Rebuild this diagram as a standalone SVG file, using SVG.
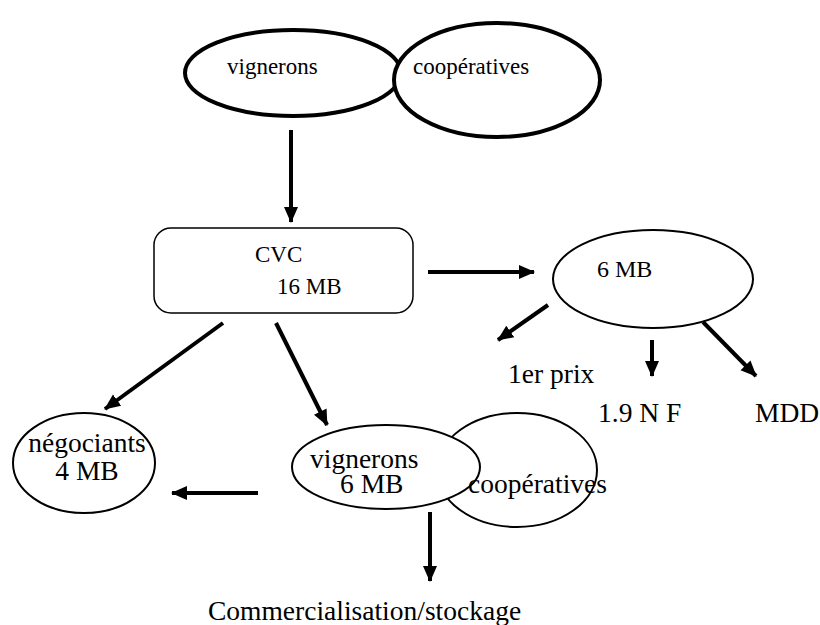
<svg xmlns="http://www.w3.org/2000/svg" width="820" height="625" viewBox="0 0 820 625">
<style>
.thick{fill:#fff;stroke:#000;stroke-width:4}
.thin{fill:#fff;stroke:#000;stroke-width:2}
.arr{stroke:#000;stroke-width:4;fill:none;marker-end:url(#ah)}
.s{font-size:23px}
.b{font-size:27.5px}
</style>
<defs>
<marker id="ah" markerUnits="userSpaceOnUse" markerWidth="16" markerHeight="16" viewBox="0 0 16 16" refX="15" refY="8" orient="auto">
<path d="M0,1 L16,8 L0,15 Z" fill="#000"/>
</marker>
</defs>
<rect width="820" height="625" fill="#fff"/>
<g font-family="'Liberation Serif', 'Times New Roman', Times, serif" fill="#000">
<g id="top-vignerons"><ellipse class="thick" cx="293" cy="73" rx="108" ry="43"/><text class="s" x="227" y="74">vignerons</text></g>
<g id="top-cooperatives"><ellipse class="thick" cx="497" cy="80" rx="103" ry="57"/><text class="s" x="413" y="74">coopératives</text></g>
<g id="cvc"><rect x="154" y="228" width="259" height="85" rx="17" ry="17" fill="#fff" stroke="#000" stroke-width="1.5"/><text class="s" x="255" y="262">CVC</text><text class="s" x="277" y="294">16 MB</text></g>
<g id="mb6"><ellipse class="thin" cx="653" cy="279" rx="100" ry="49"/><text x="597" y="277" font-size="24">6 MB</text></g>
<g id="premier-prix"><text class="b" x="508" y="383">1er prix</text></g>
<g id="nf"><text class="b" x="598" y="422">1.9 N F</text></g>
<g id="mdd"><text class="b" x="755" y="422">MDD</text></g>
<g id="negociants"><ellipse class="thin" cx="84" cy="463" rx="71" ry="50"/><text class="b" x="87" y="452" text-anchor="middle">négociants</text><text class="b" x="87" y="480" text-anchor="middle">4 MB</text></g>
<g id="cooperatives2"><ellipse class="thin" cx="517" cy="470" rx="80" ry="57"/></g>
<g id="vignerons2"><ellipse class="thin" cx="386" cy="467" rx="94" ry="42"/><text class="b" x="310" y="468">vignerons</text><text class="b" x="340" y="493">6 MB</text></g>
<g id="cooperatives2-label"><text class="b" x="468" y="493">coopératives</text></g>
<g id="commercialisation"><text class="b" x="208" y="620">Commercialisation/stockage</text></g>
</g>
<g id="connectors">
<line class="arr" x1="291" y1="130" x2="291" y2="222"/>
<line class="arr" x1="428" y1="272" x2="534" y2="272"/>
<line class="arr" x1="548" y1="305" x2="498" y2="340"/>
<line class="arr" x1="652" y1="340" x2="652" y2="376"/>
<line class="arr" x1="703" y1="322" x2="756" y2="376"/>
<line class="arr" x1="223" y1="323" x2="105" y2="409"/>
<line class="arr" x1="276" y1="323" x2="327" y2="425"/>
<line class="arr" x1="258" y1="493" x2="172" y2="493"/>
<line class="arr" x1="430" y1="512" x2="430" y2="581"/>
</g>
</svg>
